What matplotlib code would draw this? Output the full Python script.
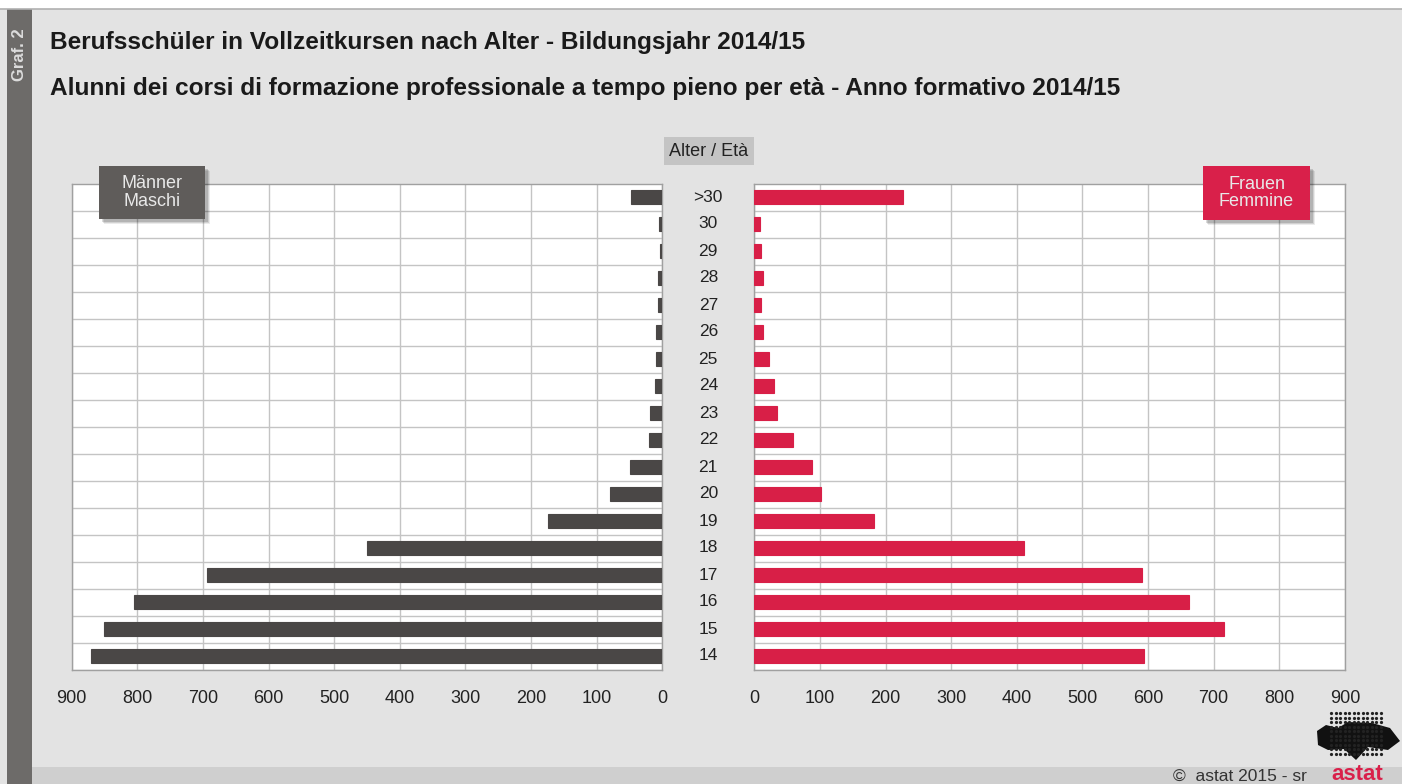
import numpy as np
import matplotlib
matplotlib.use("Agg")
import matplotlib.pyplot as plt
import matplotlib.transforms as mtransforms
from matplotlib.patches import Rectangle, Polygon

plt.rcParams['font.family'] = ['Liberation Sans', 'DejaVu Sans']

# data, top row first
ages = [">30", "30", "29", "28", "27", "26", "25", "24", "23", "22",
        "21", "20", "19", "18", "17", "16", "15", "14"]
men = [48, 5, 4, 7, 6, 10, 9, 11, 19, 21, 49, 80, 174, 450, 694, 805, 851, 870]
women = [226, 9, 10, 14, 10, 13, 22, 30, 34, 59, 88, 101, 183, 411, 591, 663, 716, 594]
ticks = [0, 100, 200, 300, 400, 500, 600, 700, 800, 900]

W, H = 1402, 784
bg = "#e3e3e3"
men_col = "#4a4746"
women_col = "#d81f47"

fig = plt.figure(figsize=(W / 100, H / 100), dpi=100)
fig.patch.set_facecolor("white")

def fx(px):
    return px / W

def fy(py):
    return 1 - py / H

# page background, side bar, footer
fig.patches.append(Rectangle((0, 0), 1, fy(9), transform=fig.transFigure,
                             facecolor=bg, edgecolor="none", zorder=-10))
fig.add_artist(plt.Line2D([0, 1], [fy(9), fy(9)], color="#b0b0b0", lw=1.2,
                          transform=fig.transFigure))
fig.patches.append(Rectangle((fx(7), 0), fx(25), fy(9), transform=fig.transFigure,
                             facecolor="#6d6b69", edgecolor="none", zorder=-5))
fig.patches.append(Rectangle((fx(32), 0), 1, 17 / H, transform=fig.transFigure,
                             facecolor="#cfcfcf", edgecolor="none", zorder=-5))
fig.text(fx(19), fy(55), "Graf. 2", rotation=90, ha="center", va="center",
         color="#dcdcdc", fontsize=12, fontweight="bold")

fig.text(fx(50), fy(49.5), "Berufsschüler in Vollzeitkursen nach Alter - Bildungsjahr 2014/15",
         ha="left", va="baseline", fontsize=17.6, fontweight="bold", color="#1a1a1a")
fig.text(fx(50), fy(95.5), "Alunni dei corsi di formazione professionale a tempo pieno per età - Anno formativo 2014/15",
         ha="left", va="baseline", fontsize=17.6, fontweight="bold", color="#1a1a1a")

y = np.arange(len(ages))
ax_w = 590.6 / W
ax_b = (H - 669.5) / H
ax_h = 486 / H
axL = fig.add_axes([fx(71.7), ax_b, ax_w, ax_h])
axR = fig.add_axes([fx(754.3), ax_b, ax_w, ax_h])

for ax, vals, col in [(axL, men, men_col), (axR, women, women_col)]:
    ax.set_facecolor("white")
    ax.barh(y, vals, height=0.5, color=col, edgecolor=col, lw=0.8, zorder=3)
    ax.set_ylim(len(ages) - 0.5, -0.5)
    ax.set_yticks(y + 0.5, minor=True)
    ax.set_yticks([])
    ax.set_xticks(ticks)
    ax.set_xticklabels([str(t) for t in ticks])
    ax.grid(axis="x", color="#c4c4c4", lw=1, zorder=0)
    ax.grid(axis="y", which="minor", color="#c4c4c4", lw=1, zorder=0)
    ax.tick_params(axis="x", length=0, pad=15, labelsize=13, colors="#222222")
    ax.tick_params(axis="y", which="both", length=0)
    for s in ax.spines.values():
        s.set_color("#a0a0a0")
        s.set_linewidth(1)
axL.set_xlim(900, 0)
axR.set_xlim(0, 900)

# age labels in the middle column
tr = mtransforms.blended_transform_factory(fig.transFigure, axR.transData)
for yi, a in zip(y, ages):
    fig.text(fx(708.3), yi, a, transform=tr, ha="center", va="center",
             fontsize=12.5, color="#222222")

fig.patches.append(Rectangle((fx(664), fy(165)), fx(90), 28 / H, transform=fig.transFigure,
                             facecolor="#c4c4c4", edgecolor="none"))
fig.text(fx(709), fy(151), "Alter / Età", ha="center", va="center", fontsize=13, color="#222222")

# legend boxes with a soft shadow
def label_box(x0, y0, w, h, col, txt):
    for k, a in [(5, "#00000014"), (4, "#0000001c"), (3, "#00000024")]:
        fig.patches.append(Rectangle((fx(x0 + k), fy(y0 + h + k)), fx(w), h / H,
                                     transform=fig.transFigure, facecolor=a,
                                     edgecolor="none", zorder=5))
    fig.patches.append(Rectangle((fx(x0), fy(y0 + h)), fx(w), h / H,
                                 transform=fig.transFigure, facecolor=col,
                                 edgecolor="none", zorder=6))
    fig.text(fx(x0 + w / 2), fy(y0 + h / 2), txt, ha="center", va="center",
             fontsize=13, color="#e8e8e8", linespacing=1.05, zorder=7)

label_box(99, 166, 106, 53, "#5f5c5a", "Männer\nMaschi")
label_box(1203, 166, 107, 54, "#d9204a", "Frauen\nFemmine")

# footer
fig.text(fx(1307), fy(776), "©  astat 2015 - sr", ha="right", va="center",
         fontsize=12.5, color="#333333")
fig.text(fx(1357), fy(774), "astat", ha="center", va="center", fontsize=16,
         fontweight="bold", color="#d9204a")

# small logo: dotted grid with dark blob
gx, gy = np.meshgrid(np.arange(1331, 1385, 4.5), np.arange(713, 757, 4.5))
fig.add_artist(plt.Line2D(fx(gx.ravel()), fy(gy.ravel()), ls="none", marker="o",
                          ms=1.3, color="#222222", transform=fig.transFigure))
blob = [(1317, 731), (1326, 725), (1338, 728), (1348, 722), (1372, 723), (1390, 728),
        (1400, 741), (1388, 750), (1368, 747), (1356, 760), (1344, 749), (1328, 750),
        (1318, 745)]
fig.patches.append(Polygon([(fx(a), fy(b)) for a, b in blob], closed=True,
                           transform=fig.transFigure, facecolor="#111111", edgecolor="none"))

fig.savefig("out.png", dpi=100, facecolor=fig.get_facecolor())
